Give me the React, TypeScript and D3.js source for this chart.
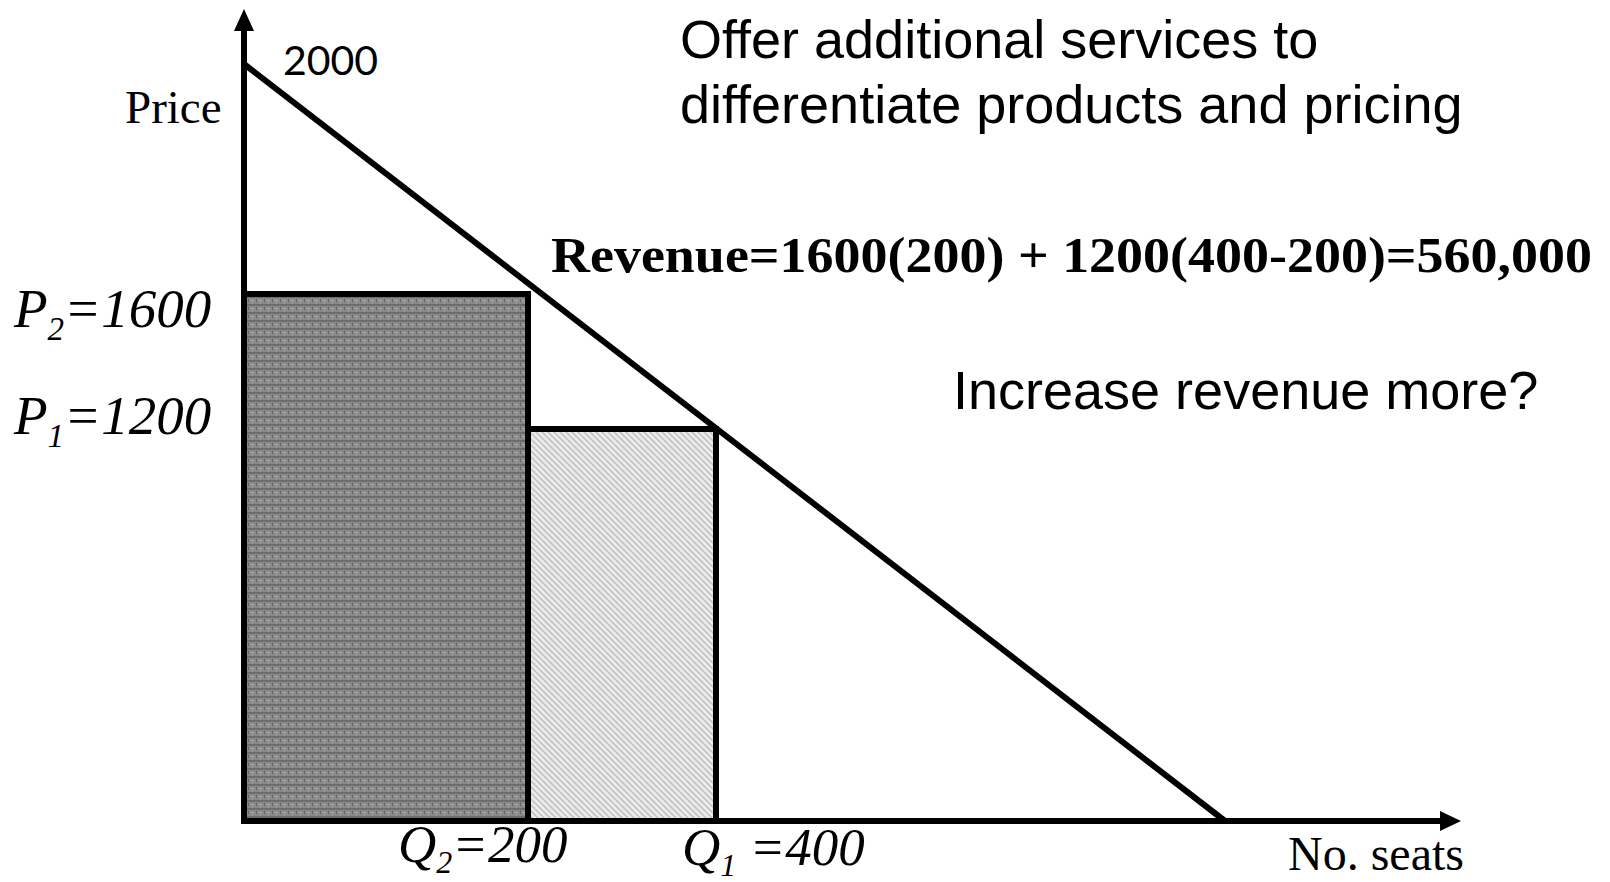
import React from "react";
import * as d3 from "d3";

// ---- data ----
const maxPrice = 2000;
const maxSeats = 1000;
const priceLevels = [1600, 1200]; // P2, P1
const priceSubs = ["2", "1"];
const seatLevels = [200, 400]; // Q2, Q1
const seatSubs = ["2", "1"];
const headline = ["Offer additional services to", "differentiate products and pricing"];
const revenueText = "Revenue=1600(200) + 1200(400-200)=560,000";
const question = "Increase revenue more?";

const W = 1610;
const H = 882;

// schematic (piecewise) scales as drawn in the reference
const x = d3.scaleLinear().domain([0, 200, 400, maxSeats]).range([244, 528, 716, 1225]);
const y = d3.scaleLinear().domain([0, 1200, 1600, maxPrice]).range([821, 429, 294, 64]);

const SANS = "'Liberation Sans', Arial, sans-serif";
const SERIF = "'Liberation Serif', 'Times New Roman', serif";

export default function App() {
  const line = d3.line<[number, number]>().x((d) => x(d[0])).y((d) => y(d[1]));
  const demand = line([
    [0, maxPrice],
    [maxSeats, 0],
  ]);
  const x0 = x(0);
  const y0 = y(0);
  const bars = [
    { q0: 0, q1: seatLevels[0], p: priceLevels[0], fill: "url(#dark)" },
    { q0: seatLevels[0], q1: seatLevels[1], p: priceLevels[1], fill: "url(#light)" },
  ];
  return (
    <svg width={W} height={H} style={{ position: "absolute", left: 0, top: 0, background: "#fff" }}>
      <defs>
        <pattern id="dark" width="8" height="8" patternUnits="userSpaceOnUse">
          <rect width="8" height="8" fill="#8a8a8a" />
          <rect x="0" y="0" width="8" height="2" fill="#6c6c6c" />
          <rect x="2" y="4" width="4" height="1" fill="#acacac" />
          <rect x="0" y="3" width="1" height="3" fill="#626262" />
          <rect x="4" y="6" width="1" height="1" fill="#bcbcbc" />
        </pattern>
        <pattern id="light" width="6" height="6" patternUnits="userSpaceOnUse">
          <rect width="6" height="6" fill="#ececec" />
          <path d="M-1,5 L5,-1 M2,8 L8,2" stroke="#c4c4c4" strokeWidth="1.6" transform="scale(-1,1) translate(-6,0)" />
        </pattern>
      </defs>

      {bars.map((b, i) => (
        <rect
          key={i}
          x={x(b.q0)}
          y={y(b.p)}
          width={x(b.q1) - x(b.q0)}
          height={y0 - y(b.p)}
          fill={b.fill}
          stroke="#000"
          strokeWidth={6}
        />
      ))}

      {/* demand line */}
      <path d={demand || ""} stroke="#000" strokeWidth={6} fill="none" />

      {/* axes */}
      <line x1={x0} y1={y0 + 3} x2={x0} y2={28} stroke="#000" strokeWidth={6} />
      <path d={`M${x0 - 10},31 L${x0},9 L${x0 + 10},31 Z`} fill="#000" />
      <line x1={x0 - 3} y1={y0} x2={1444} y2={y0} stroke="#000" strokeWidth={6} />
      <path d={`M1440,${y0 - 10} L1461,${y0} L1440,${y0 + 10} Z`} fill="#000" />

      {/* axis labels */}
      <text x={125} y={123} fontFamily={SERIF} fontSize={47} fill="#000">Price</text>
      <text x={1288} y={870} fontFamily={SERIF} fontSize={48} fill="#000">No. seats</text>
      <text x={283} y={75} fontFamily="Lato, 'Open Sans', sans-serif" fontSize={41} fill="#000">{maxPrice}</text>

      {/* price labels */}
      {priceLevels.map((p, i) => (
        <text key={p} x={14} y={y(p) + (i === 0 ? 33 : 5)} fontFamily={SERIF} fontStyle="italic" fontSize={55} fill="#000">
          P
          <tspan fontSize={33} dy={13}>{priceSubs[i]}</tspan>
          <tspan dy={-13}>={p}</tspan>
        </text>
      ))}

      {/* seat labels */}
      {seatLevels.map((q, i) => (
        <text key={q} x={x(q) + (i === 0 ? -130 : -34)} y={y0 + (i === 0 ? 41 : 44)} fontFamily={SERIF} fontStyle="italic" fontSize={53} fill="#000">
          Q
          <tspan fontSize={32} dy={11}>{seatSubs[i]}</tspan>
          <tspan dy={-11}>{i === 1 ? " " : ""}={q}</tspan>
        </text>
      ))}

      {/* annotations */}
      {headline.map((t, i) => (
        <text key={i} x={680} y={58 + i * 65} fontFamily={SANS} fontSize={54} fill="#000">{t}</text>
      ))}
      <text x={551} y={272} fontFamily={SERIF} fontWeight="bold" fontSize={50} textLength={1041} lengthAdjust="spacingAndGlyphs" fill="#000">
        {revenueText}
      </text>
      <text x={953} y={409} fontFamily={SANS} fontSize={54} fill="#000">{question}</text>
    </svg>
  );
}
